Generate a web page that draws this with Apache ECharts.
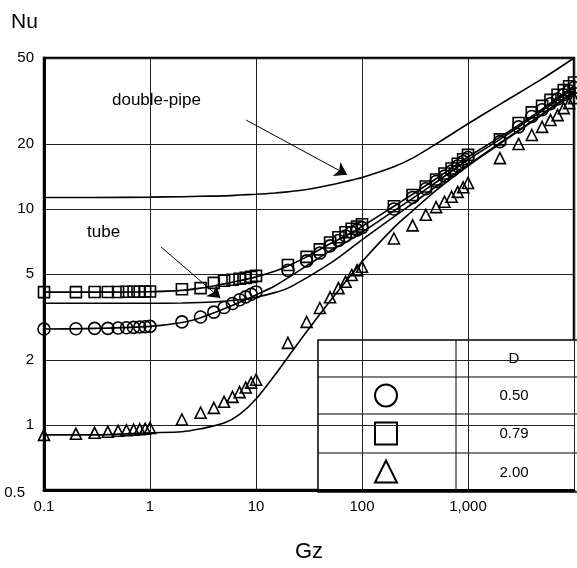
<!DOCTYPE html>
<html>
<head>
<meta charset="utf-8">
<script src="https://cdn.jsdelivr.net/npm/echarts@6/dist/echarts.min.js"></script>
<style>
  html, body { margin: 0; background: #fff; }
  #chart { width: 577px; height: 568px; }
</style>
</head>
<body>
<div id="chart"></div>
<script>
// measured points (Gz, Nu) for the three D values
const gzPoints = [0.1, 0.2, 0.3, 0.4, 0.5, 0.6, 0.7, 0.8, 0.9, 1,
  2, 3, 4, 5, 6, 7, 8, 9, 10,
  20, 30, 40, 50, 60, 70, 80, 90, 100,
  200, 300, 400, 500, 600, 700, 800, 900, 1000,
  2000, 3000, 4000, 5000, 6000, 7000, 8000, 9000, 10000]
const nuCircle = [2.78, 2.79, 2.8, 2.8, 2.81, 2.82, 2.83, 2.84, 2.85, 2.86,
  3.0, 3.16, 3.33, 3.5, 3.65, 3.8, 3.92, 4.03, 4.13,
  5.2, 5.75, 6.25, 6.75, 7.15, 7.5, 7.8, 8.0, 8.2,
  10.0, 11.3, 12.4, 13.4, 14.2, 15.0, 15.8, 16.6, 17.3,
  20.5, 24.0, 26.8, 28.8, 30.7, 32.3, 33.8, 35.2, 36.5]
const nuSquare = [4.12, 4.12, 4.13, 4.13, 4.13, 4.14, 4.14, 4.14, 4.15, 4.15,
  4.25, 4.3, 4.55, 4.65, 4.7, 4.75, 4.8, 4.85, 4.9,
  5.5, 6.0, 6.5, 7.0, 7.4, 7.8, 8.1, 8.3, 8.5,
  10.3, 11.6, 12.7, 13.7, 14.6, 15.4, 16.2, 17.0, 17.8,
  21.0, 25.0, 28.0, 30.0, 32.0, 33.8, 35.5, 37.0, 38.5]
const nuTriangle = [0.9, 0.91, 0.92, 0.93, 0.94, 0.945, 0.95, 0.955, 0.96, 0.97,
  1.06, 1.14, 1.2, 1.28, 1.35, 1.42, 1.49, 1.57, 1.62,
  2.4, 3.0, 3.48, 3.9, 4.3, 4.6, 4.95, 5.2, 5.4,
  7.3, 8.4, 9.4, 10.2, 10.8, 11.4, 12.0, 12.6, 13.2,
  17.2, 20.0, 22.0, 24.0, 25.8, 27.2, 29.3, 30.9, 32.6]

// curves
const gzCurve = [0.1, 0.3, 1, 2, 3, 5, 7, 10, 15, 20, 30, 50, 70, 100, 200, 300, 500, 1000, 2000, 5000, 10000]
const nuDoublePipe = [11.3, 11.3, 11.35, 11.4, 11.45, 11.5, 11.6, 11.7, 11.85, 12.0, 12.3, 12.9, 13.4, 14.0, 15.7, 17.2, 20.0, 24.8, 30.5, 40.0, 50.0]
const nuTube = [3.66, 3.66, 3.66, 3.67, 3.69, 3.74, 3.8, 3.9, 4.1, 4.3, 4.8, 5.6, 6.3, 7.2, 9.2, 10.6, 12.7, 16.0, 20.2, 27.5, 35.0]
const nuFitSquare = [4.12, 4.12, 4.14, 4.2, 4.3, 4.5, 4.65, 4.85, 5.15, 5.45, 6.0, 6.9, 7.5, 8.3, 10.3, 11.7, 13.8, 17.4, 21.5, 29.0, 37.0]
const nuFitCircle = [2.78, 2.8, 2.86, 2.98, 3.14, 3.45, 3.7, 4.0, 4.4, 4.8, 5.45, 6.4, 7.0, 7.8, 9.8, 11.2, 13.3, 16.9, 21.0, 28.5, 36.3]
const nuFitTriangle = [0.9, 0.9, 0.92, 0.93, 0.96, 1.02, 1.12, 1.32, 1.7, 2.06, 2.7, 3.75, 4.6, 5.7, 8.2, 9.8, 12.2, 15.8, 20.0, 27.3, 34.5]

const xTicks = [0.1, 1, 10, 100, 1000, 10000]
const xTickLabels = ['0.1', '1', '10', '100', '1,000', '']
const yTicks = [0.5, 1, 2, 5, 10, 20, 50]
const yTickLabels = ['0.5', '1', '2', '5', '10', '20', '50']

const legendHeader = 'D'
const legendRows = [
  { symbol: 'circle', label: '0.50' },
  { symbol: 'square', label: '0.79' },
  { symbol: 'triangle', label: '2.00' },
]

const FONT = 'Liberation Sans, Arial, sans-serif'
const pairs = (xs, ys) => xs.map((x, i) => [x, ys[i]])
const findTick = (ticks, v) =>
  ticks.findIndex((t) => Math.abs(Math.log10(t) - Math.log10(v)) < 1e-6)

const chart = echarts.init(document.getElementById('chart'))

const markerSeries = (data, symbol, size) => ({
  type: 'line',
  data,
  symbol,
  symbolSize: size,
  showAllSymbol: true,
  lineStyle: { width: 0, opacity: 0 },
  itemStyle: { color: 'transparent', borderColor: '#000', borderWidth: 1.6 },
  z: 4,
})

const curveSeries = (data, extra) => Object.assign({
  type: 'line',
  data,
  smooth: 0.3,
  showSymbol: false,
  lineStyle: { color: '#000', width: 1.6 },
  z: 3,
}, extra || {})

// legend table (drawn as a box in the lower-right corner)
const tbl = { x: 318, y: 340, w: 262, h: 152, split: 456, rows: [340, 377, 414, 453, 492] }
const tableGraphics = [
  { type: 'rect', shape: { x: tbl.x, y: tbl.y, width: tbl.w, height: tbl.h },
    style: { fill: '#fff', stroke: '#000', lineWidth: 1.5 } },
  { type: 'line', shape: { x1: tbl.split, y1: tbl.y, x2: tbl.split, y2: tbl.y + tbl.h },
    style: { stroke: '#000', lineWidth: 1 } },
]
tbl.rows.slice(1, -1).forEach((ry) => {
  tableGraphics.push({ type: 'line', shape: { x1: tbl.x, y1: ry, x2: tbl.x + tbl.w, y2: ry },
    style: { stroke: '#000', lineWidth: 1 } })
})
const textX = 514
tableGraphics.push({ type: 'text', x: textX, y: (tbl.rows[0] + tbl.rows[1]) / 2,
  style: { text: legendHeader, font: '15px ' + FONT, fill: '#000', align: 'center', verticalAlign: 'middle' } })
legendRows.forEach((r, i) => {
  const cy = (tbl.rows[i + 1] + tbl.rows[i + 2]) / 2
  const cx = 386
  const st = { fill: 'none', stroke: '#000', lineWidth: 2 }
  if (r.symbol === 'circle') {
    tableGraphics.push({ type: 'circle', shape: { cx, cy, r: 11 }, style: st })
  } else if (r.symbol === 'square') {
    tableGraphics.push({ type: 'rect', shape: { x: cx - 11, y: cy - 11, width: 22, height: 22 }, style: st })
  } else {
    tableGraphics.push({ type: 'polygon', shape: { points: [[cx, cy - 12], [cx - 11, cy + 10], [cx + 11, cy + 10]] }, style: st })
  }
  tableGraphics.push({ type: 'text', x: textX, y: cy,
    style: { text: r.label, font: '15px ' + FONT, fill: '#000', align: 'center', verticalAlign: 'middle' } })
})

const option = {
  animation: false,
  backgroundColor: '#fff',
  grid: {
    left: 44, right: 0, top: 58, bottom: 78,
    show: true, borderColor: '#000', borderWidth: 2.5,
  },
  xAxis: {
    type: 'log',
    logBase: 10,
    min: 0.1,
    max: 10000,
    axisLine: { show: true, lineStyle: { color: '#000', width: 3 } },
    axisTick: { show: false, customValues: xTicks },
    splitLine: { show: true, lineStyle: { color: '#222', width: 1 } },
    axisLabel: {
      customValues: xTicks,
      margin: 9,
      color: '#000',
      fontSize: 15,
      fontFamily: FONT,
      formatter: (v) => xTickLabels[findTick(xTicks, v)] || '',
    },
  },
  yAxis: {
    type: 'log',
    logBase: 10,
    min: 0.5,
    max: 50,
    axisLine: { show: true, lineStyle: { color: '#000', width: 3 } },
    axisTick: { show: false, customValues: yTicks },
    splitLine: { show: true, lineStyle: { color: '#222', width: 1 } },
    axisLabel: {
      customValues: yTicks,
      margin: 10,
      color: '#000',
      fontSize: 15,
      fontFamily: FONT,
      formatter: (v) => {
        const s = yTickLabels[findTick(yTicks, v)] || ''
        return v < 0.75 ? '{low|' + s + '}' : s
      },
      rich: {
        low: { fontSize: 15, fontFamily: FONT, color: '#000', padding: [6, 9, 0, 0] },
      },
    },
  },
  graphic: [
    { type: 'text', x: 11, y: 12, style: { text: 'Nu', font: '21px ' + FONT, fill: '#000' } },
    { type: 'text', x: 309, y: 552, style: { text: 'Gz', font: '22px ' + FONT, fill: '#000', align: 'center', verticalAlign: 'middle' } },
    { type: 'text', x: 112, y: 100, style: { text: 'double-pipe', font: '17px ' + FONT, fill: '#000', verticalAlign: 'middle' } },
    { type: 'text', x: 87, y: 232, style: { text: 'tube', font: '17px ' + FONT, fill: '#000', verticalAlign: 'middle' } },
    { type: 'group', z: 50, children: tableGraphics },
  ],
  series: [
    curveSeries(pairs(gzCurve, nuDoublePipe), {
      markLine: {
        silent: true,
        symbol: ['none', 'arrow'],
        symbolSize: 12,
        lineStyle: { color: '#000', width: 1, type: 'solid' },
        label: { show: false },
        data: [
          [{ coord: [8.07, 25.8] }, { coord: [72.4, 14.4] }],
          [{ coord: [1.27, 6.67] }, { coord: [4.61, 3.87] }],
        ],
      },
    }),
    curveSeries(pairs(gzCurve, nuTube)),
    curveSeries(pairs(gzCurve, nuFitSquare)),
    curveSeries(pairs(gzCurve, nuFitCircle)),
    curveSeries(pairs(gzCurve, nuFitTriangle)),
    markerSeries(pairs(gzPoints, nuCircle), 'circle', 12),
    markerSeries(pairs(gzPoints, nuSquare), 'rect', 11),
    markerSeries(pairs(gzPoints, nuTriangle), 'triangle', 11),
  ],
}

chart.setOption(option)
window.addEventListener('resize', () => chart.resize())
</script>
</body>
</html>
